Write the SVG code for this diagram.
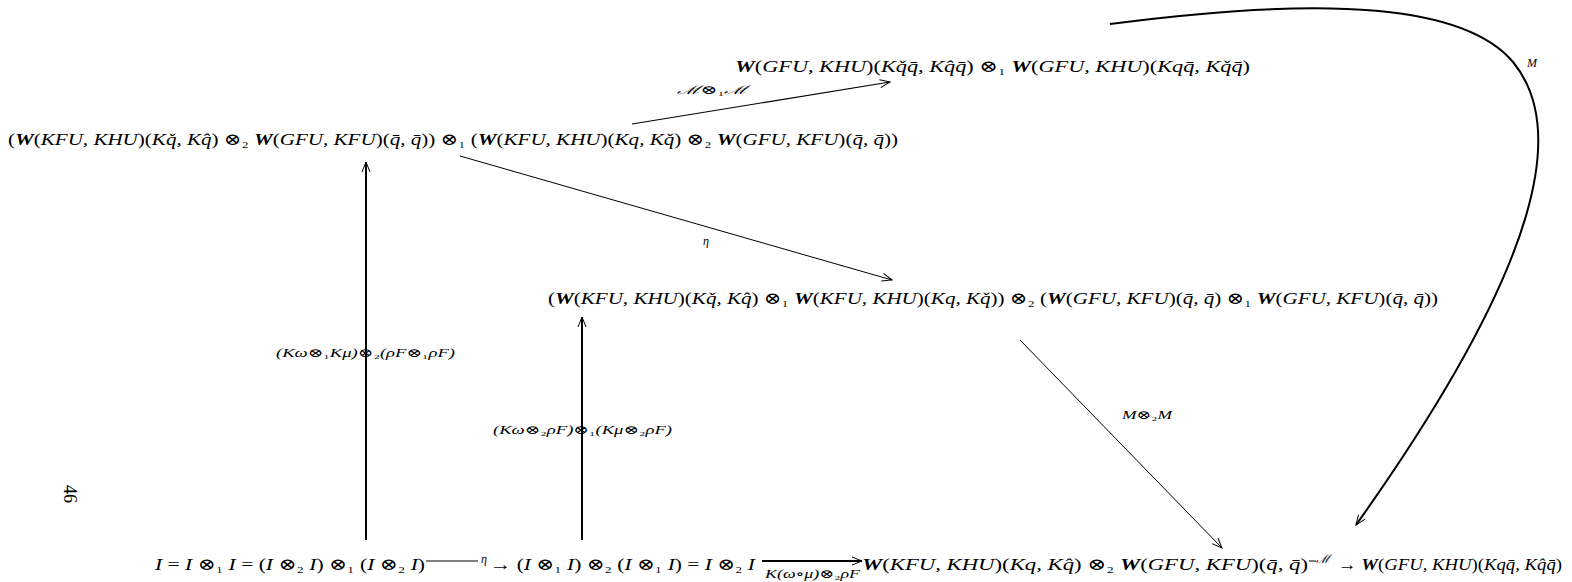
<svg xmlns="http://www.w3.org/2000/svg" width="1572" height="582" viewBox="0 0 1572 582">
<style>
text{font-family:"Liberation Serif","DejaVu Serif",serif;fill:#000}
.m{font-size:17px;font-style:italic}
.s{font-size:12px;font-style:italic}
.w{font-weight:bold}
.u{font-style:normal}
.c{stroke:#000;fill:none}
</style>
<defs>
<marker id="ah" markerUnits="userSpaceOnUse" markerWidth="14" markerHeight="12" refX="11" refY="5" orient="auto">
<path d="M1,1 L11,5 L1,9" fill="none" stroke="#000" stroke-width="1"/>
</marker>
</defs>
<rect width="1572" height="582" fill="#fff"/>
<g id="connectors">
<line class="c" x1="366" y1="540" x2="366" y2="162" stroke-width="2" marker-end="url(#ah)"/>
<line class="c" x1="582" y1="540" x2="582" y2="317" stroke-width="2" marker-end="url(#ah)"/>
<line class="c" x1="460" y1="156" x2="892" y2="280" stroke-width="1" marker-end="url(#ah)"/>
<line class="c" x1="632" y1="124" x2="890" y2="82" stroke-width="1.2" marker-end="url(#ah)"/>
<line class="c" x1="1020" y1="340" x2="1222" y2="548" stroke-width="1" marker-end="url(#ah)"/>
<path class="c" d="M1110,24 C1330,-5 1465,5 1513,62 C1565,125 1548,255 1356,525" stroke-width="2" marker-end="url(#ah)"/>
<line class="c" x1="426" y1="561" x2="478" y2="561" stroke-width="1"/>
<line class="c" x1="762" y1="561" x2="862" y2="561" stroke-width="2" marker-end="url(#ah)"/>
<line class="c" x1="1309" y1="561" x2="1316" y2="561" stroke-width="1"/>
<text class="s" x="677" y="94" textLength="71" lengthAdjust="spacingAndGlyphs">ℳ<tspan class="u">⊗₁</tspan>ℳ</text>
<text class="s" x="706" y="245" text-anchor="middle">η</text>
<text class="s" x="276" y="357" textLength="179" lengthAdjust="spacingAndGlyphs">(Kω<tspan class="u">⊗₁</tspan>Kμ)<tspan class="u">⊗₂</tspan>(ρF<tspan class="u">⊗₁</tspan>ρF)</text>
<text class="s" x="493" y="434" textLength="179" lengthAdjust="spacingAndGlyphs">(Kω<tspan class="u">⊗₂</tspan>ρF)<tspan class="u">⊗₁</tspan>(Kμ<tspan class="u">⊗₂</tspan>ρF)</text>
<text class="s" x="1122" y="419" textLength="50" lengthAdjust="spacingAndGlyphs">M<tspan class="u">⊗₂</tspan>M</text>
<text class="s" x="1532" y="67" text-anchor="middle">M</text>
<text class="s" x="765" y="578" textLength="95" lengthAdjust="spacingAndGlyphs">K(ω<tspan class="u">∘</tspan>μ)<tspan class="u">⊗₂</tspan>ρF</text>
<text class="s" x="481" y="563">η</text>
<text class="s" x="1316" y="563">ℳ</text>
</g>
<g id="n_top">
<text class="m" x="735" y="72" textLength="515" lengthAdjust="spacingAndGlyphs"><tspan class="w">W</tspan><tspan class="u">(</tspan>GFU, KHU<tspan class="u">)(</tspan>Kq̌q̄, Kq̂q̄<tspan class="u">) ⊗₁ </tspan><tspan class="w">W</tspan><tspan class="u">(</tspan>GFU, KHU<tspan class="u">)(</tspan>Kqq̄, Kq̌q̄<tspan class="u">)</tspan></text>
</g>
<g id="n_row2">
<text class="m" x="8" y="145" textLength="890" lengthAdjust="spacingAndGlyphs"><tspan class="u">(</tspan><tspan class="w">W</tspan><tspan class="u">(</tspan>KFU, KHU<tspan class="u">)(</tspan>Kq̌, Kq̂<tspan class="u">) ⊗₂ </tspan><tspan class="w">W</tspan><tspan class="u">(</tspan>GFU, KFU<tspan class="u">)(</tspan>q̄, q̄<tspan class="u">)) ⊗₁ (</tspan><tspan class="w">W</tspan><tspan class="u">(</tspan>KFU, KHU<tspan class="u">)(</tspan>Kq, Kq̌<tspan class="u">) ⊗₂ </tspan><tspan class="w">W</tspan><tspan class="u">(</tspan>GFU, KFU<tspan class="u">)(</tspan>q̄, q̄<tspan class="u">))</tspan></text>
</g>
<g id="n_row3">
<text class="m" x="548" y="304" textLength="890" lengthAdjust="spacingAndGlyphs"><tspan class="u">(</tspan><tspan class="w">W</tspan><tspan class="u">(</tspan>KFU, KHU<tspan class="u">)(</tspan>Kq̌, Kq̂<tspan class="u">) ⊗₁ </tspan><tspan class="w">W</tspan><tspan class="u">(</tspan>KFU, KHU<tspan class="u">)(</tspan>Kq, Kq̌<tspan class="u">)) ⊗₂ (</tspan><tspan class="w">W</tspan><tspan class="u">(</tspan>GFU, KFU<tspan class="u">)(</tspan>q̄, q̄<tspan class="u">) ⊗₁ </tspan><tspan class="w">W</tspan><tspan class="u">(</tspan>GFU, KFU<tspan class="u">)(</tspan>q̄, q̄<tspan class="u">))</tspan></text>
</g>
<g id="n_bottom1">
<text class="m" x="155" y="570" textLength="270" lengthAdjust="spacingAndGlyphs">I <tspan class="u">=</tspan> I <tspan class="u">⊗₁</tspan> I <tspan class="u">= (</tspan>I <tspan class="u">⊗₂</tspan> I<tspan class="u">) ⊗₁ (</tspan>I <tspan class="u">⊗₂</tspan> I<tspan class="u">)</tspan></text>
</g>
<g id="n_bottom2">
<text class="m" x="490" y="570" textLength="265" lengthAdjust="spacingAndGlyphs"><tspan class="u">→ (</tspan>I <tspan class="u">⊗₁</tspan> I<tspan class="u">) ⊗₂ (</tspan>I <tspan class="u">⊗₁</tspan> I<tspan class="u">) =</tspan> I <tspan class="u">⊗₂</tspan> I</text>
</g>
<g id="n_bottom3">
<text class="m" x="862" y="570" textLength="446" lengthAdjust="spacingAndGlyphs"><tspan class="w">W</tspan><tspan class="u">(</tspan>KFU, KHU<tspan class="u">)(</tspan>Kq, Kq̂<tspan class="u">) ⊗₂ </tspan><tspan class="w">W</tspan><tspan class="u">(</tspan>GFU, KFU<tspan class="u">)(</tspan>q̄, q̄<tspan class="u">)</tspan></text>
</g>
<g id="n_bottom4">
<text class="m" x="1338" y="570" textLength="224" lengthAdjust="spacingAndGlyphs"><tspan class="u">→ </tspan><tspan class="w">W</tspan><tspan class="u">(</tspan>GFU, KHU<tspan class="u">)(</tspan>Kqq̄, Kq̂q̄<tspan class="u">)</tspan></text>
</g>
<g id="pagenum">
<text x="68" y="494" font-size="18" text-anchor="middle" transform="rotate(90 68 494)" dominant-baseline="middle">46</text>
</g>
</svg>
